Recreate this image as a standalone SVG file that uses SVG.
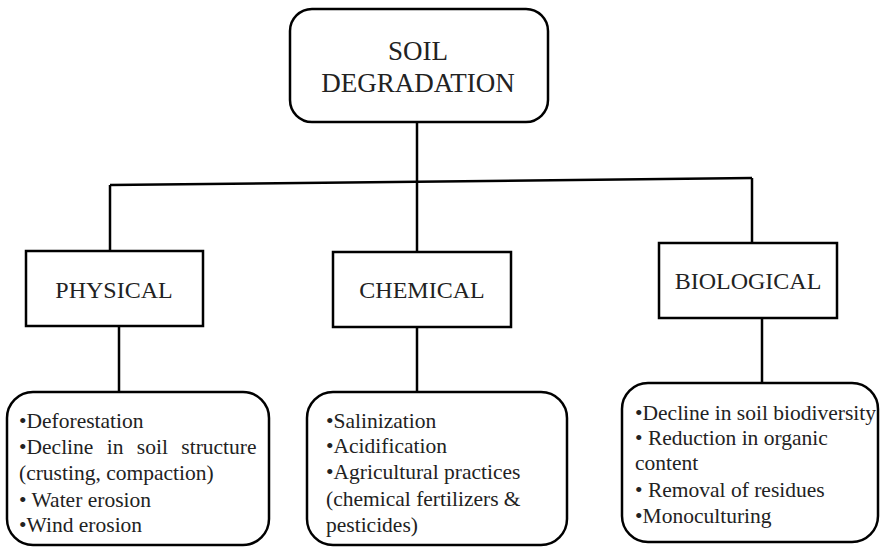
<svg xmlns="http://www.w3.org/2000/svg" width="883" height="548" viewBox="0 0 883 548">
<style>
.box{fill:#fff;stroke:#000;stroke-width:2.5}
.ln{stroke:#000;stroke-width:2.5;fill:none}
text{font-family:"Liberation Serif","Times New Roman",serif;fill:#222}
.t1{font-size:27px;text-anchor:middle}
.t2{font-size:24px;text-anchor:middle}
.t3{font-size:21.5px}
</style>
<rect width="883" height="548" fill="#fff"/>
<g id="connectors">
<line class="ln" x1="417" y1="122" x2="417" y2="252"/>
<line class="ln" x1="110" y1="185" x2="752" y2="178"/>
<line class="ln" x1="110" y1="185" x2="110" y2="251"/>
<line class="ln" x1="752" y1="178" x2="752" y2="243"/>
<line class="ln" x1="119" y1="326" x2="119" y2="392"/>
<line class="ln" x1="417" y1="327" x2="417" y2="392"/>
<line class="ln" x1="762" y1="318" x2="762" y2="383"/>
</g>
<g id="soil-degradation">
<rect class="box" x="290" y="9" width="258" height="113" rx="22"/>
<text class="t1" x="418" y="60">SOIL</text>
<text class="t1" x="418" y="92">DEGRADATION</text>
</g>
<g id="physical">
<rect class="box" x="26" y="251" width="177" height="75"/>
<text class="t2" x="114" y="298">PHYSICAL</text>
</g>
<g id="chemical">
<rect class="box" x="333" y="252" width="178" height="75"/>
<text class="t2" x="422" y="298">CHEMICAL</text>
</g>
<g id="biological">
<rect class="box" x="659" y="243" width="178" height="75"/>
<text class="t2" x="748" y="289">BIOLOGICAL</text>
</g>
<g id="physical-details">
<rect class="box" x="7" y="392" width="262" height="153" rx="26"/>
<text class="t3" x="19" y="428">•Deforestation</text>
<text class="t3" x="19" y="454" word-spacing="8">•Decline in soil structure</text>
<text class="t3" x="19" y="480">(crusting, compaction)</text>
<text class="t3" x="19" y="507">• Water erosion</text>
<text class="t3" x="19" y="532">•Wind erosion</text>
</g>
<g id="chemical-details">
<rect class="box" x="307" y="392" width="260" height="153" rx="26"/>
<text class="t3" x="326" y="428">•Salinization</text>
<text class="t3" x="326" y="453">•Acidification</text>
<text class="t3" x="326" y="479">•Agricultural practices</text>
<text class="t3" x="326" y="506">(chemical fertilizers &amp;</text>
<text class="t3" x="326" y="532">pesticides)</text>
</g>
<g id="biological-details">
<rect class="box" x="622" y="383" width="256" height="159" rx="26"/>
<text class="t3" x="635" y="420">•Decline in soil biodiversity</text>
<text class="t3" x="635" y="445">• Reduction in organic</text>
<text class="t3" x="635" y="470">content</text>
<text class="t3" x="635" y="497">• Removal of residues</text>
<text class="t3" x="635" y="523">•Monoculturing</text>
</g>
</svg>
